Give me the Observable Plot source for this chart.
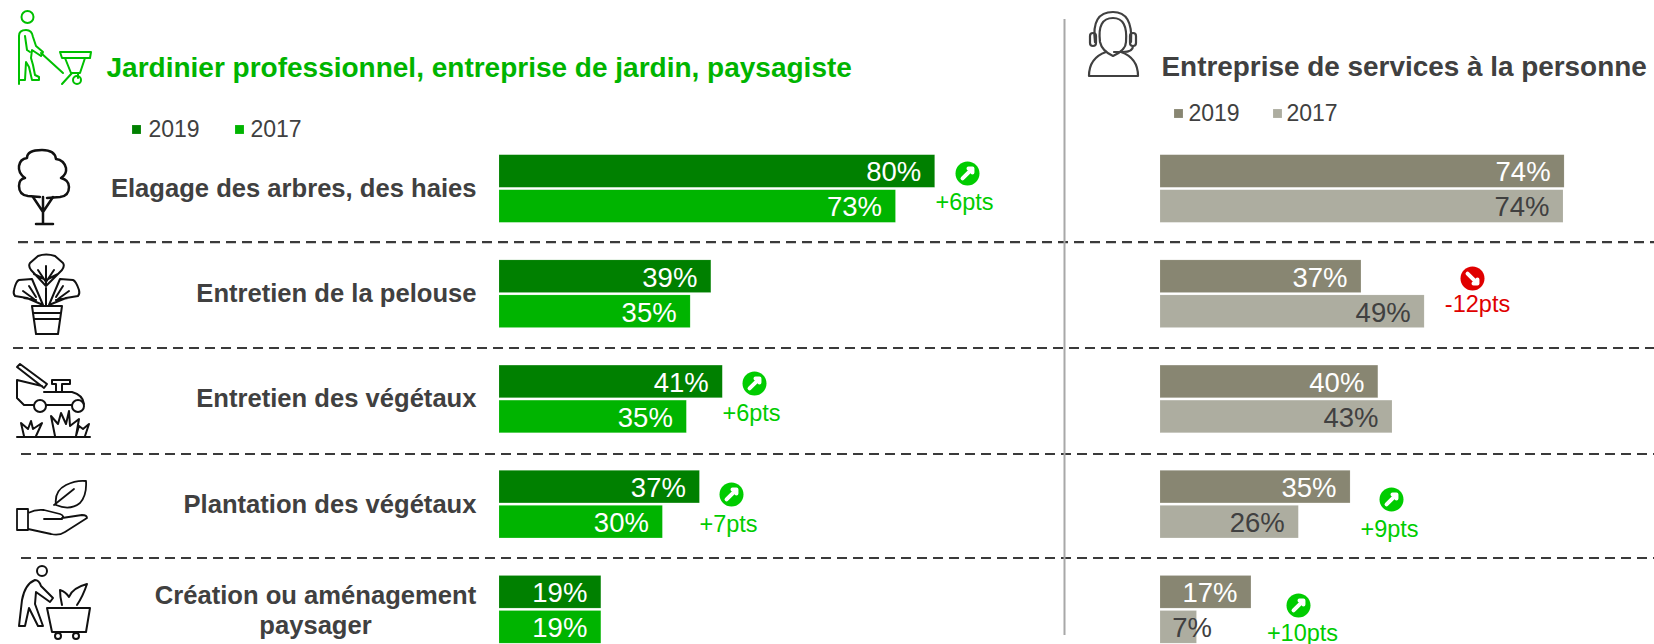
<!DOCTYPE html>
<html lang="fr">
<head>
<meta charset="utf-8">
<script src="https://cdn.jsdelivr.net/npm/d3@7"></script>
<script src="https://cdn.jsdelivr.net/npm/@observablehq/plot@0.6"></script>
<style>
html,body{margin:0;padding:0;background:#fff;overflow:hidden}
#chart{position:relative;width:1654px;height:644px}
#chart>svg,#chart>.layer{position:absolute;left:0;top:0;background:transparent}
</style>
</head>
<body>
<div id="chart"></div>
<script>
const categories = ["Elagage des arbres, des haies","Entretien de la pelouse","Entretien des végétaux","Plantation des végétaux","Création ou aménagement\npaysager"];
const years = ["2019","2017"];
const gardener2019 = [80,38.9,41,36.8,18.7];
const gardener2017 = [72.8,35.1,34.4,30,18.7];
const gardenerLabels2019 = ["80%","39%","41%","37%","19%"];
const gardenerLabels2017 = ["73%","35%","35%","30%","19%"];
const services2019 = [74.2,36.9,40,34.9,16.7];
const services2017 = [74,48.5,42.6,25.4,6.7];
const servicesLabels2019 = ["74%","37%","40%","35%","17%"];
const servicesLabels2017 = ["74%","49%","43%","26%","7%"];
const gardenerDeltas = [{row:0,text:"+6pts"},{row:2,text:"+6pts"},{row:3,text:"+7pts"}];
const serviceDeltas = [{row:1,text:"-12pts"},{row:3,text:"+9pts"},{row:4,text:"+10pts"}];
const titleLeft = "Jardinier professionnel, entreprise de jardin, paysagiste";
const titleRight = "Entreprise de services à la personne";

const FONT = "Liberation Sans, Arial, sans-serif";
const W = 1654, H = 644, UNIT = 5.446;
const DARK = "#404040", UP = "#00cc00", DOWN = "#e00000";
const ROW = {first:154.7, pitch:105.2};

function rows(a2019, a2017, l2019, l2017){
  const out = [];
  categories.forEach((c,i)=>{
    out.push({row:i, cat:c, year:"2019", v:a2019[i], label:l2019[i], y1:i, y2:i+0.31});
    out.push({row:i, cat:c, year:"2017", v:a2017[i], label:l2017[i], y1:i+0.333, y2:i+0.643});
  });
  return out;
}

function panel(x0, data, colors, textColors, extra){
  const svg = Plot.plot({
    width:W, height:H, margin:0,
    style:{background:"transparent",fontFamily:FONT},
    x:{domain:[0,100], range:[x0, x0+100*UNIT], axis:null},
    y:{domain:[0,5], range:[ROW.first, ROW.first+5*ROW.pitch], axis:null},
    color:{domain:years, range:colors},
    marks:[
      Plot.rectX(data,{x1:0,x2:"v",y1:"y1",y2:"y2",fill:"year",stroke:"#fff",strokeOpacity:0.25,strokeWidth:0.5}),
      Plot.text(data.filter(d=>d.v>=10),{x:"v",y:d=>(d.y1+d.y2)/2,text:"label",textAnchor:"end",dx:-14,dy:1,
        fontSize:27.5,fontFamily:FONT,fill:d=>textColors[d.year]}),
      Plot.text(data.filter(d=>d.v<10),{x:"v",y:d=>(d.y1+d.y2)/2,text:"label",textAnchor:"end",dx:15,dy:1,
        fontSize:27.5,fontFamily:FONT,fill:d=>textColors[d.year]}),
      ...extra
    ]
  });
  svg.setAttribute("class",(svg.getAttribute("class")||"")+" layer");
  return svg;
}

const catRows = categories.map((c,i)=>({c,i}));
const leftPanel = panel(499, rows(gardener2019,gardener2017,gardenerLabels2019,gardenerLabels2017),
  ["#008000","#00b400"], {"2019":"#fff","2017":"#fff"},
  [
    Plot.text(catRows.slice(0,4),{x:0,y:d=>d.i+0.32,text:"c",textAnchor:"end",dx:-23,fontSize:25.6,fontWeight:"bold",fontFamily:FONT,fill:DARK}),
    Plot.text(catRows.slice(4),{x:0,y:d=>d.i+0.32,text:"c",textAnchor:"middle",dx:-184,fontSize:25.6,lineHeight:1.17,fontWeight:"bold",fontFamily:FONT,fill:DARK})
  ]);
const rightPanel = panel(1160, rows(services2019,services2017,servicesLabels2019,servicesLabels2017),
  ["#888672","#adada0"], {"2019":"#fff","2017":DARK}, []);

// Delta badges, placed in page pixels beside their rows
const badgePos = [
  {...gardenerDeltas[0],cx:967,cy:173,tx:964,ty:202},
  {...gardenerDeltas[1],cx:754,cy:383,tx:751,ty:413},
  {...gardenerDeltas[2],cx:731,cy:494,tx:728,ty:524},
  {...serviceDeltas[0],cx:1472,cy:278,tx:1477,ty:304},
  {...serviceDeltas[1],cx:1391,cy:499,tx:1389,ty:529},
  {...serviceDeltas[2],cx:1298,cy:605,tx:1302,ty:633}
].map(d=>({...d,color:d.text[0]==="+"?UP:DOWN,rotate:d.text[0]==="+"?45:135}));

const legends = [
  {sx:136,tx:148,y:129,t:years[0],c:"#008000"},
  {sx:239,tx:250,y:129,t:years[1],c:"#00b400"},
  {sx:1178,tx:1188,y:113,t:years[0],c:"#888672"},
  {sx:1277,tx:1286,y:113,t:years[1],c:"#adada0"}
];
const separators = [{y:241.7,x1:18},{y:347.5,x1:13},{y:453.5,x1:21},{y:557.5,x1:21}];

const frame = Plot.plot({
  width:W,height:H,margin:0,
  style:{background:"transparent",fontFamily:FONT},
  x:{domain:[0,W],range:[0,W],axis:null},
  y:{domain:[0,H],range:[0,H],axis:null},
  marks:[
    Plot.ruleY(separators,{y:"y",x1:"x1",x2:W,stroke:"#3a3a3a",strokeWidth:2.2,strokeDasharray:"10,6"}),
    Plot.ruleX([1064],{y1:19,y2:635,stroke:"#a8a8a8",strokeWidth:2}),
    Plot.text([titleLeft],{x:106,y:68,text:d=>d,textAnchor:"start",fontSize:28,fontWeight:"bold",fontFamily:FONT,fill:"#00b400"}),
    Plot.text([titleRight],{x:1161,y:67,text:d=>d,textAnchor:"start",fontSize:27.9,fontWeight:"bold",fontFamily:FONT,fill:DARK}),
    Plot.dot(legends,{x:"sx",y:"y",symbol:"square",r:5,fill:"c"}),
    Plot.text(legends,{x:"tx",y:"y",text:"t",textAnchor:"start",fontSize:23,fontFamily:FONT,fill:DARK}),
    Plot.dot(badgePos,{x:"cx",y:"cy",r:12,fill:"color"}),
    Plot.vector(badgePos,{x:"cx",y:"cy",rotate:"rotate",length:14,anchor:"middle",stroke:"#fff",strokeWidth:4}),
    Plot.text(badgePos,{x:"tx",y:"ty",text:"text",textAnchor:"middle",fontSize:23.5,fontFamily:FONT,fill:"color"})
  ]
});
frame.setAttribute("class",(frame.getAttribute("class")||"")+" layer");

const chart = document.getElementById("chart");
chart.append(leftPanel,rightPanel,frame);

// Pictograms
const icons = `
<svg width="1654" height="644" viewBox="0 0 1654 644" class="layer" fill="none" stroke-linecap="round" stroke-linejoin="round" aria-hidden="true">
 <g stroke="#00c000" stroke-width="2">
  <circle cx="27.5" cy="17" r="6"/>
  <path d="M19 84V36q0-6 7-6q6 0 7 7l3 9l7 6l-2 4l-9-6l-1 8l2 7l2 10l4 2v3H32l-3-13l-3-5l-1 18h-6"/>
  <path d="M25 36l2 14l3 2M41 53l22 20"/>
  <path d="M60 52H91l-1 6H62zM65 58l6 15h9l5-15M72 73l-10 11M78 73v5"/>
  <circle cx="77" cy="80" r="4"/>
 </g>
 <g stroke="#111" stroke-width="2.5">
  <path d="M40 197l-12-1q-9-1-9-10q0-7 6-8q-7-5-6-12q1-7 8-8q0-8 15-8q13 0 14 9q8 1 10 9q1 6-5 10q8 2 8 9q0 9-9 10l-13 1"/>
  <path d="M43 224V197M43 212l-10-15M43 212l10-15M36 224h17"/>
 </g>
 <g stroke="#111" stroke-width="2">
  <path d="M46 305V288M46 286L31 270q-3-4-1-7l8-7q8-3 17 0l8 7q2 3-1 7zM46 286V266M46 282l-8-12M46 282l8-12M46 280l-12-6M46 280l12-6"/>
  <path d="M43 305L32 279l-13 1q-3 1-5 10q-1 4 1 6l12 2zM34 299l-11-8M36 300l-12-2M36 297l-7-11"/>
  <path d="M49 305l11-26l13 1q3 1 6 10q1 4-1 6l-12 2zM58 299l11-8M56 300l12-2M56 297l7-11"/>
  <path d="M32 306H62L58 334H36zM33 313H61M34 319H60"/>
 </g>
 <g stroke="#111" stroke-width="2">
  <path d="M17 367l3-3l27 20l-3 4zM17 380l25 6M17 380v18l7 7h10M46 405H72M44 392H72q11 3 12 12M56 391v-7h-4v-4h18v4h-8v7"/>
  <circle cx="40" cy="406" r="6"/><circle cx="78" cy="406" r="6"/>
  <path d="M17 437H90M24 436l-3-13l7 6l3-8l2 8l9-6l-6 13M55 436l-4-20l7 8l3-11l5 11l3-13l1 15l9-7l-3 17M76 436l3-10l4 3l6-5l-4 12"/>
 </g>
 <g stroke="#111" stroke-width="1.8">
  <path d="M17 509h11v21H17zM28 513q8-4 16-3l16 4q5 2 2 5H44M62 518l20-3q5 0 5 3l-22 14q-6 4-14 2l-23-5"/>
  <path d="M56 505q-2-14 10-20q10-5 20-4q1 14-6 22q-10 8-24 2zM54 505l20-16"/>
 </g>
 <g stroke="#111" stroke-width="2">
  <circle cx="42" cy="571" r="5"/>
  <path d="M35 580q-10 4-13 20l-3 26h6l4-18l9 18h5l-8-22l1-12l14 10l3-4l-12-12q-2-6-6-6z"/>
  <path d="M47 608H90l-4 24H52zM48 608l5 0M58 636m-3 0a3 3 0 1 0 6 0a3 3 0 1 0-6 0M76 636m-3 0a3 3 0 1 0 6 0a3 3 0 1 0-6 0"/>
  <path d="M62 605q-2-8-2-15q6 2 9 7q3-9 18-13q-4 12-10 21"/>
 </g>
 <g stroke="#404040" stroke-width="2.2">
  <path d="M1095 42q-4-30 18-30q20 0 18 30M1100 42q-3-24 13-24q15 0 13 24q0 8-13 14q-11-5-13-14z"/>
  <rect x="1090" y="33" width="6" height="13" rx="3"/><rect x="1130" y="33" width="6" height="13" rx="3"/>
  <path d="M1133 46q0 6-10 6h-9M1106 52q-17 6-17 24h49q0-18-17-24"/>
 </g>
</svg>`;
chart.insertAdjacentHTML("beforeend",icons);
</script>
</body>
</html>
